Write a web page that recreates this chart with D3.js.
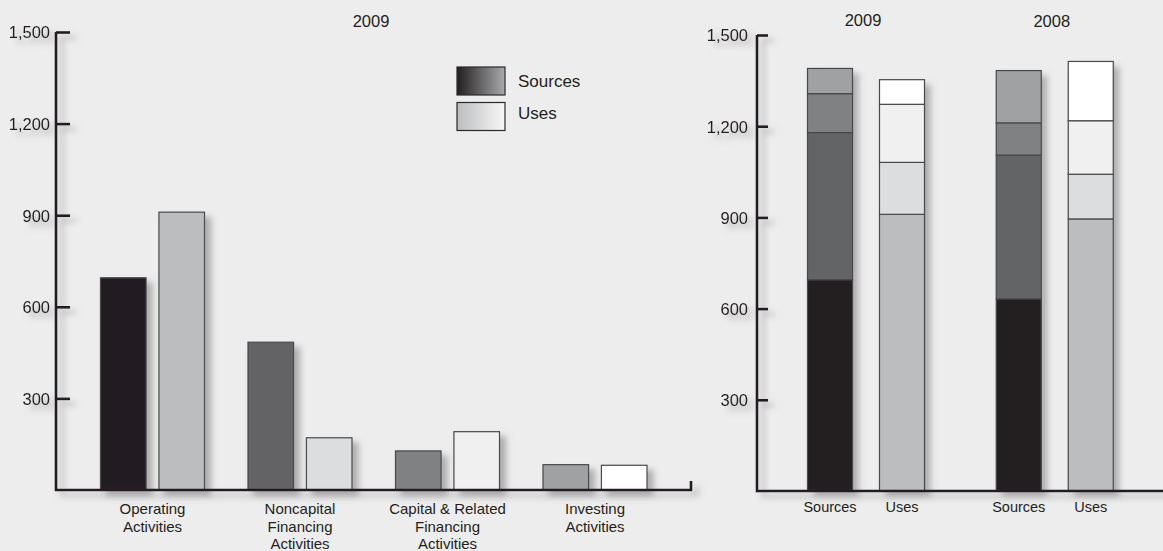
<!DOCTYPE html>
<html><head><meta charset="utf-8">
<script src="https://cdn.jsdelivr.net/npm/d3@7"></script>
<style>
html,body{margin:0;padding:0;background:#ededed;}
svg{display:block;font-family:"Liberation Sans",Arial,Helvetica,sans-serif;}
</style></head><body>
<svg id="c" width="1163" height="551"></svg>
<script>
// ---- data ----
const categories = ["Operating Activities","Noncapital Financing Activities","Capital & Related Financing Activities","Investing Activities"];
const categoryLines = [["Operating","Activities"],["Noncapital","Financing","Activities"],["Capital & Related","Financing","Activities"],["Investing","Activities"]];
const kinds = ["Sources","Uses"];
const years = ["2009","2008"];
const sources2009 = [695, 484, 128, 83];
const uses2009 = [910, 171, 191, 81];
const sources2008 = [632, 473, 106, 172];
const uses2008 = [895, 147, 176, 195];
const yTicks = [300, 600, 900, 1200, 1500];

// ---- styles ----
const sourceColors = ["#231f20","#636466","#808183","#a0a1a3"];
const useColors = ["#bcbdbf","#dcdddf","#f0f0f0","#ffffff"];
const ink = "#231f20";
const barStroke = "#48484a";

const svg = d3.select("#c");
svg.append("rect").attr("width",1163).attr("height",551).attr("fill","#ededed");
const defs = svg.append("defs");
const f = defs.append("filter").attr("id","sh").attr("filterUnits","userSpaceOnUse")
  .attr("x",-50).attr("y",-50).attr("width",1300).attr("height",700);
f.append("feDropShadow").attr("dx",6).attr("dy",5).attr("stdDeviation",3).attr("flood-color","#7a7a7c").attr("flood-opacity",0.55);
const g1 = defs.append("linearGradient").attr("id","gS");
g1.append("stop").attr("offset","0%").attr("stop-color","#231f20");
g1.append("stop").attr("offset","100%").attr("stop-color","#a9aaac");
const g2 = defs.append("linearGradient").attr("id","gU");
g2.append("stop").attr("offset","0%").attr("stop-color","#bcbdbf");
g2.append("stop").attr("offset","100%").attr("stop-color","#f7f7f7");

// ================= LEFT CHART =================
const L = {axisX:56, y0:490, y1:32, right:691};
const yL = d3.scaleLinear().domain([0,1500]).range([L.y0, L.y1]);
const xL = d3.scalePoint().domain(categories).range([152.5, 595]);
const xSub = d3.scaleBand().domain(kinds).range([-52, 52]).paddingInner(0.22);

const left = svg.append("g");
const leftData = [];
categories.forEach((c,i)=>{
  leftData.push({cat:c, kind:"Sources", v:sources2009[i], color:sourceColors[i]});
  leftData.push({cat:c, kind:"Uses", v:uses2009[i], color:useColors[i]});
});
left.append("g").selectAll("rect").data(leftData).join("rect")
  .attr("x", d=>xL(d.cat)+xSub(d.kind))
  .attr("width", xSub.bandwidth())
  .attr("y", d=>yL(d.v))
  .attr("height", d=>yL(0)-yL(d.v))
  .attr("fill", d=>d.color)
  .attr("stroke", barStroke).attr("stroke-width",1.2)
  .attr("filter","url(#sh)");

// axis
const yAxisL = d3.axisLeft(yL).tickValues(yTicks).tickFormat(d3.format(",")).tickSizeInner(-14).tickSizeOuter(0).tickPadding(6);
const aL = left.append("g").attr("transform",`translate(${L.axisX},0)`).call(yAxisL);
aL.select(".domain").remove();
aL.selectAll(".tick line").attr("stroke",ink).attr("stroke-width",2.6);
aL.selectAll(".tick text").attr("fill",ink).attr("font-size",16.5).attr("font-family",null).attr("dy","0.36em");
aL.append("path")
  .attr("d", `M0,${yL(1500)}V${yL(0)}H${L.right-L.axisX}V${yL(0)-9}`)
  .attr("fill","none").attr("stroke",ink).attr("stroke-width",2.6);
aL.attr("filter","url(#sh)");

// category labels
left.append("g").selectAll("text").data(categories).join("text")
  .attr("text-anchor","middle").attr("fill",ink).attr("font-size",15)
  .attr("x", d=>xL(d)).attr("y", 514)
  .each(function(d,i){
    d3.select(this).selectAll("tspan").data(categoryLines[i]).join("tspan")
      .attr("x", xL(d)).attr("dy",(t,j)=>j===0?0:17.5).text(t=>t);
  });

// title
left.append("text").attr("x",371).attr("y",27).attr("text-anchor","middle")
  .attr("font-size",16.5).attr("fill",ink).text("2009");

// legend
const lg = left.append("g");
lg.append("rect").attr("x",457).attr("y",67).attr("width",48).attr("height",28)
  .attr("fill","url(#gS)").attr("stroke","#2a2a2a").attr("stroke-width",1.2);
lg.append("rect").attr("x",457).attr("y",102.5).attr("width",48).attr("height",28)
  .attr("fill","url(#gU)").attr("stroke","#2a2a2a").attr("stroke-width",1.2);
lg.append("text").attr("x",518).attr("y",87).attr("font-size",17).attr("fill",ink).text(kinds[0]);
lg.append("text").attr("x",518).attr("y",119).attr("font-size",17).attr("fill",ink).text(kinds[1]);

// ================= RIGHT CHART =================
const R = {axisX:757, y0:491, y1:35, right:1163};
const yR = d3.scaleLinear().domain([0,1500]).range([R.y0, R.y1]);
const xR = d3.scalePoint().domain(years).range([866, 1054.75]);
const xSubR = d3.scaleBand().domain(kinds).range([-58.5, 58.5]).paddingInner(0.375);

const right = svg.append("g");
const stackInput = [
  {year:"2009", kind:"Sources", vals:sources2009, colors:sourceColors},
  {year:"2009", kind:"Uses", vals:uses2009, colors:useColors},
  {year:"2008", kind:"Sources", vals:sources2008, colors:sourceColors},
  {year:"2008", kind:"Uses", vals:uses2008, colors:useColors}
];
const keys = d3.range(categories.length);
const stacked = d3.stack().keys(keys).value((d,k)=>d.vals[k])(stackInput);
const segs = [];
stacked.forEach((layer,k)=>{
  layer.forEach(p=>{ segs.push({year:p.data.year, kind:p.data.kind, lo:p[0], hi:p[1], color:p.data.colors[k]}); });
});
right.append("g").attr("filter","url(#sh)").selectAll("rect").data(stackInput).join("rect")
  .attr("x", d=>xR(d.year)+xSubR(d.kind))
  .attr("width", xSubR.bandwidth())
  .attr("y", d=>yR(d3.sum(d.vals)))
  .attr("height", d=>yR(0)-yR(d3.sum(d.vals)))
  .attr("fill","#999");
right.append("g").selectAll("rect").data(segs).join("rect")
  .attr("x", d=>xR(d.year)+xSubR(d.kind))
  .attr("width", xSubR.bandwidth())
  .attr("y", d=>yR(d.hi))
  .attr("height", d=>yR(d.lo)-yR(d.hi))
  .attr("fill", d=>d.color)
  .attr("stroke", barStroke).attr("stroke-width",1.2);

// axis
const yAxisR = d3.axisLeft(yR).tickValues(yTicks).tickFormat(d3.format(",")).tickSizeInner(-11).tickSizeOuter(0).tickPadding(9);
const aR = right.append("g").attr("transform",`translate(${R.axisX},0)`).call(yAxisR);
aR.select(".domain").remove();
aR.selectAll(".tick line").attr("stroke",ink).attr("stroke-width",2.6);
aR.selectAll(".tick text").attr("fill",ink).attr("font-size",16.5).attr("font-family",null).attr("dy","0.36em");
aR.append("path")
  .attr("d", `M0,${yR(1500)}V${yR(0)}H${R.right-R.axisX+10}`)
  .attr("fill","none").attr("stroke",ink).attr("stroke-width",2.6);
aR.attr("filter","url(#sh)");

// bar labels
right.append("g").selectAll("text").data(stackInput).join("text")
  .attr("x", d=>xR(d.year)+xSubR(d.kind)+xSubR.bandwidth()/2)
  .attr("y", 512).attr("text-anchor","middle").attr("font-size",14.5).attr("fill",ink)
  .text(d=>d.kind);

// year titles
right.append("g").selectAll("text").data(years).join("text")
  .attr("x", d=>xR(d)-3).attr("y", (d,i)=>i===0?26:27).attr("text-anchor","middle")
  .attr("font-size",16.5).attr("fill",ink).text(d=>d);
</script>
</body></html>
